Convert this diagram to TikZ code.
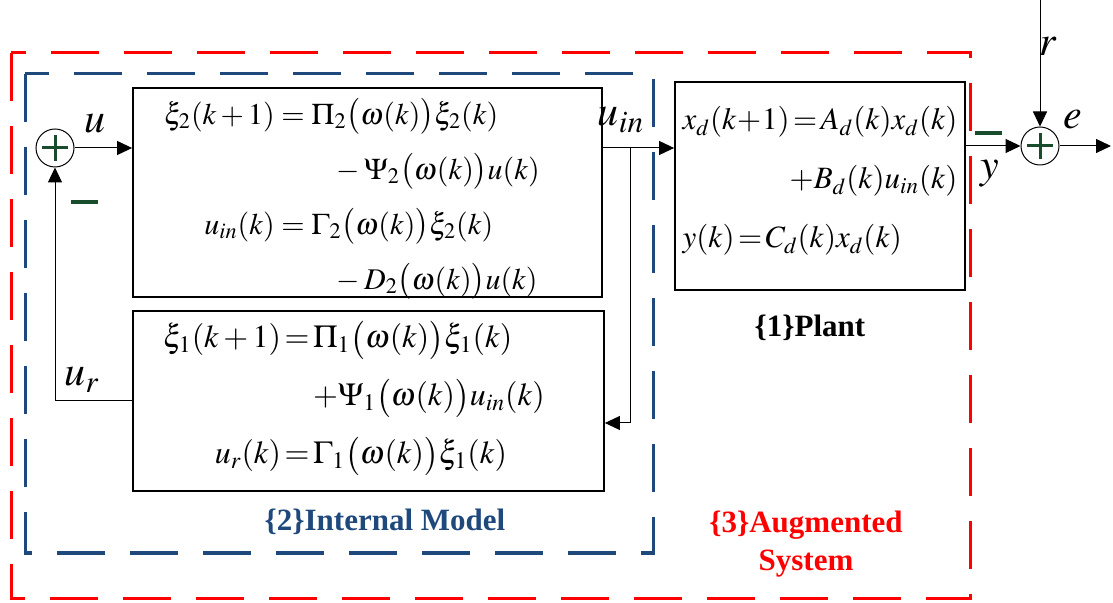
\documentclass[tikz,border=0pt]{standalone}
\usepackage{mathptmx}
\usepackage[no-math]{fontspec}
\setmainfont{Liberation Serif}
\usepackage{tikz}
\usetikzlibrary{arrows.meta,positioning,calc}
\definecolor{augred}{RGB}{255,0,0}
\definecolor{modelblue}{RGB}{31,73,125}
\definecolor{signgreen}{RGB}{24,76,44}

\tikzset{
  sysbox/.style={draw, line width=0.9pt, inner sep=0pt},
  eqtext/.style={inner sep=0pt, font=\fontsize{15}{19}\selectfont},
  sumnode/.style={circle, draw, line width=0.5pt, minimum size=19pt, inner sep=0pt,
    path picture={\draw[signgreen, line width=1.5pt]
      ([xshift=-6.5pt]path picture bounding box.center) -- ([xshift=6.5pt]path picture bounding box.center)
      ([yshift=-6.5pt]path picture bounding box.center) -- ([yshift=6.5pt]path picture bounding box.center);}},
  sig/.style={-{Triangle[length=7.5pt,width=7pt]}, line width=0.5pt},
  siglabel/.style={inner sep=0pt, font=\fontsize{21}{24}\selectfont},
  minusbar/.style={fill=signgreen, minimum width=13.5pt, minimum height=1.6pt, inner sep=0pt},
  groupframe/.style={dash pattern=on 24pt off 12.5pt, line width=1.5pt},
  boxtitle/.style={inner sep=0pt, font=\bfseries\fontsize{15.5}{19}\selectfont},
}

\begin{document}
\begin{tikzpicture}[x=0.5pt, y=-0.5pt]
  \useasboundingbox (0,0) rectangle (1113,603);

  % dashed frames
  \draw[groupframe, augred] (11,53) rectangle (970,598);
  \draw[groupframe, modelblue] (25,74) rectangle (653,553);

  % blocks
  \node[sysbox, minimum width=234.5pt, minimum height=104.5pt] (im2) at (367.5,192.5) {};
  \node[sysbox, minimum width=235.5pt, minimum height=90pt] (im1) at (368.5,401) {};
  \node[sysbox, minimum width=145pt, minimum height=104pt] (plant) at (820,186) {};

  \node[eqtext] (im2eq) at (352,199) {$\begin{array}{@{}r@{}l@{}}
      \xi_2(k+1) ={} & \Pi_2\big(\omega(k)\big)\xi_2(k)\\[8.5pt]
      & \hspace{0.7em}{}-\Psi_2\big(\omega(k)\big)u(k)\\[8.5pt]
      u_{in}(k) ={} & \Gamma_2\big(\omega(k)\big)\xi_2(k)\\[8.5pt]
      & \hspace{0.7em}{}-D_2\big(\omega(k)\big)u(k)
    \end{array}$};
  \node[eqtext, font=\fontsize{16}{20}\selectfont] (im1eq) at (354,398) {$\begin{array}{@{}r@{}l@{}}
      \xi_1(k+1)\!=\!{} & \Pi_1\big(\omega(k)\big)\xi_1(k)\\[9pt]
      & +\Psi_1\big(\omega(k)\big)u_{in}(k)\\[9pt]
      u_r(k)\!=\!{} & \Gamma_1\big(\omega(k)\big)\xi_1(k)
    \end{array}$};
  \node[eqtext, font=\fontsize{15.5}{20}\selectfont] (planteq) at (820,181) {$\begin{array}{@{}l@{}}
      x_d(k\!+\!1)\!=\!A_d(k)x_d(k)\\[9.5pt]
      \hfill +B_d(k)u_{in}(k)\\[9.5pt]
      y(k)\!=\!C_d(k)x_d(k)
    \end{array}$};

  % summing junctions
  \node[sumnode] (s1) at (55,148) {};
  \node[sumnode] (s2) at (1040,146) {};
  \node[minusbar] (m1) at (84,202) {};
  \node[minusbar] (m2) at (988,133) {};

  % signals
  \coordinate (br) at (630,423);
  \coordinate (rin) at (1040,0);
  \coordinate (eout) at (1111,146);
  \draw[sig] (s1) -- (s1 -| im2.west);
  \draw[sig] (s1 -| im2.east) -- (s1 -| plant.west);
  \draw[sig] (s1 -| br) -- (br) -- (br -| im1.east);
  \draw[sig] (im1.west) -| (s1.south);
  \draw[sig] (s2 -| plant.east) -- (s2);
  \draw[sig] (rin) -- (s2);
  \draw[sig] (s2) -- (eout);

  \node[siglabel] (ulab) at (95,124) {$u$};
  \node[siglabel] (uinlab) at (621,120) {$u_{in}$};
  \node[siglabel] (urlab) at (82,380) {$u_r$};
  \node[siglabel] (ylab) at (990,174) {$y$};
  \node[siglabel] (rlab) at (1048,46) {$r$};
  \node[siglabel] (elab) at (1073,120) {$e$};

  % titles
  \node[boxtitle] (plantlab) at (810,328) {\{1\}Plant};
  \node[boxtitle, text=modelblue] (imlab) at (385,522) {\{2\}Internal Model};
  \node[boxtitle, text=augred, align=center] (auglab) at (806,544) {\{3\}Augmented\\System};
\end{tikzpicture}
\end{document}
